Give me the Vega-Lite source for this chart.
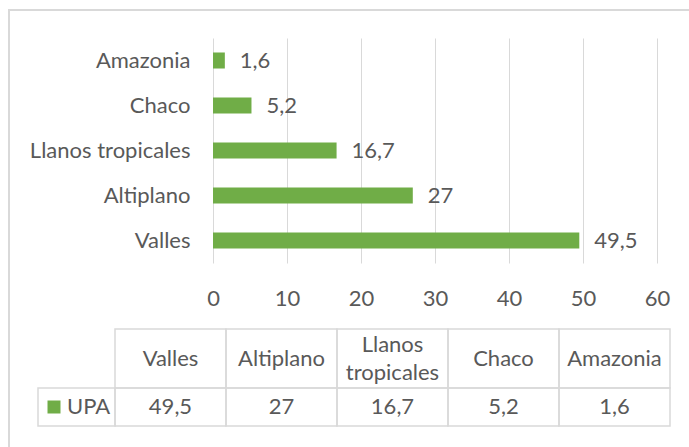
{
  "$schema": "https://vega.github.io/schema/vega-lite/v6.json",
  "width": 685,
  "height": 442,
  "autosize": {"type": "none"},
  "padding": {"left": 9, "top": 10, "right": -5, "bottom": -5},
  "background": "white",
  "config": {
    "view": {"stroke": "#d9d9d9", "strokeWidth": 2},
    "font": "Lato",
    "text": {"font": "Lato", "fontSize": 22, "fontWeight": 400, "fill": "#595959"},
    "locale": {"number": {"decimal": ",", "thousands": ".", "grouping": [3], "currency": ["", " €"]}}
  },
  "datasets": {
    "upa": [
      {"region": "Valles", "series": "UPA", "value": 49.5},
      {"region": "Altiplano", "series": "UPA", "value": 27},
      {"region": "Llanos tropicales", "series": "UPA", "value": 16.7},
      {"region": "Chaco", "series": "UPA", "value": 5.2},
      {"region": "Amazonia", "series": "UPA", "value": 1.6}
    ],
    "legend": [{"series": "UPA"}]
  },
  "layer": [
    {
      "data": {"name": "upa"},
      "mark": {"type": "bar", "color": "#70ad47"},
      "encoding": {
        "y": {
          "field": "region", "type": "nominal",
          "sort": ["Amazonia", "Chaco", "Llanos tropicales", "Altiplano", "Valles"],
          "scale": {"range": [28, 253], "paddingInner": 0.644, "paddingOuter": 0.322},
          "axis": {"title": null, "ticks": false, "tickSize": 0, "domain": false, "grid": false, "offset": -204, "labelPadding": 23, "labelFont": "Lato", "labelFontSize": 22, "labelFontWeight": 400, "labelColor": "#595959"}
        },
        "x": {
          "field": "value", "type": "quantitative",
          "scale": {"domain": [0, 60], "range": [204, 648], "nice": false},
          "axis": {"orient": "top", "title": null, "values": [0, 10, 20, 30, 40, 50, 60], "labels": false, "ticks": false, "tickSize": 0, "domain": false, "grid": true, "gridColor": "#d9d9d9", "gridWidth": 1}
        }
      }
    },
    {
      "data": {"name": "upa"},
      "mark": {"type": "text", "align": "left", "baseline": "middle", "dx": 15},
      "encoding": {
        "y": {
          "field": "region", "type": "nominal",
          "sort": ["Amazonia", "Chaco", "Llanos tropicales", "Altiplano", "Valles"],
          "scale": {"range": [28, 253], "paddingInner": 0.644, "paddingOuter": 0.322},
          "axis": null
        },
        "x": {
          "field": "value", "type": "quantitative",
          "scale": {"domain": [0, 60], "range": [204, 648], "nice": false},
          "axis": {"orient": "bottom", "title": null, "values": [0, 10, 20, 30, 40, 50, 60], "ticks": false, "tickSize": 0, "domain": false, "grid": false, "offset": -189, "labelPadding": 25, "labelFlush": false, "labelFont": "Lato", "labelFontSize": 22, "labelFontWeight": 400, "labelColor": "#595959"}
        },
        "text": {"field": "value", "type": "quantitative", "format": ".3~g"}
      }
    },
    {
      "data": {"name": "upa"},
      "encoding": {
        "x": {"field": "region", "type": "nominal", "sort": ["Valles", "Altiplano", "Llanos tropicales", "Chaco", "Amazonia"], "scale": {"range": [106, 661], "paddingInner": 0, "paddingOuter": 0}, "axis": null},
        "y": {"datum": "header", "type": "nominal", "scale": {"range": [319, 378]}, "axis": null}
      },
      "layer": [
        {"mark": {"type": "rect", "fill": "transparent", "stroke": "#d9d9d9", "strokeWidth": 1.5}},
        {
          "transform": [{"filter": "indexof(datum.region, ' ') < 0"}],
          "mark": {"type": "text", "baseline": "middle"},
          "encoding": {"text": {"field": "region", "type": "nominal"}}
        },
        {
          "transform": [{"filter": "indexof(datum.region, ' ') >= 0"}],
          "mark": {"type": "text", "baseline": "middle", "lineBreak": " ", "lineHeight": 28, "dy": -14},
          "encoding": {"text": {"field": "region", "type": "nominal"}}
        }
      ]
    },
    {
      "data": {"name": "upa"},
      "encoding": {
        "x": {"field": "region", "type": "nominal", "sort": ["Valles", "Altiplano", "Llanos tropicales", "Chaco", "Amazonia"], "scale": {"range": [106, 661], "paddingInner": 0, "paddingOuter": 0}, "axis": null},
        "y": {"field": "series", "type": "nominal", "scale": {"range": [378, 416]}, "axis": null}
      },
      "layer": [
        {"mark": {"type": "rect", "fill": "transparent", "stroke": "#d9d9d9", "strokeWidth": 1.5}},
        {"mark": {"type": "text", "baseline": "middle"}, "encoding": {"text": {"field": "value", "type": "quantitative", "format": ".3~g"}}}
      ]
    },
    {
      "data": {"name": "legend"},
      "encoding": {
        "x": {"field": "series", "type": "nominal", "scale": {"range": [29, 106], "paddingInner": 0, "paddingOuter": 0}, "axis": null},
        "y": {"field": "series", "type": "nominal", "scale": {"range": [378, 416]}, "axis": null}
      },
      "layer": [
        {"mark": {"type": "rect", "fill": "transparent", "stroke": "#d9d9d9", "strokeWidth": 1.5}},
        {"mark": {"type": "point", "shape": "square", "size": 169, "filled": true, "color": "#70ad47", "opacity": 1, "xOffset": -22.5}},
        {"mark": {"type": "text", "align": "left", "baseline": "middle", "dx": -9.5}, "encoding": {"text": {"field": "series", "type": "nominal"}}}
      ]
    }
  ],
  "resolve": {"scale": {"x": "independent", "y": "independent"}}
}
